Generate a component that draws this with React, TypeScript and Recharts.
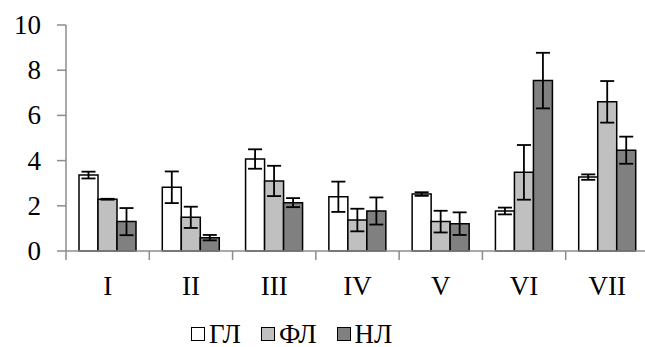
import { BarChart, Bar, XAxis, YAxis, ErrorBar, Legend } from 'recharts';

const categories = ['I', 'II', 'III', 'IV', 'V', 'VI', 'VII'];
const glValues = [3.36, 2.82, 4.07, 2.4, 2.52, 1.77, 3.27];
const glErrors = [0.15, 0.7, 0.43, 0.67, 0.08, 0.15, 0.12];
const flValues = [2.29, 1.49, 3.1, 1.37, 1.3, 3.48, 6.6];
const flErrors = [0.02, 0.47, 0.67, 0.5, 0.48, 1.21, 0.92];
const nlValues = [1.3, 0.59, 2.14, 1.77, 1.21, 7.54, 4.46];
const nlErrors = [0.6, 0.12, 0.2, 0.6, 0.5, 1.23, 0.6];
const yTicks = [0, 2, 4, 6, 8, 10];

const SERIES = [
  { key: 'gl', name: 'ГЛ', color: '#ffffff' },
  { key: 'fl', name: 'ФЛ', color: '#c0c0c0' },
  { key: 'nl', name: 'НЛ', color: '#808080' },
];

const FONT = '"Liberation Serif", "Times New Roman", serif';
const AXIS_COLOR = '#8c8c8c';

const data = categories.map((cat, i) => ({
  cat,
  gl: glValues[i],
  glErr: glErrors[i],
  fl: flValues[i],
  flErr: flErrors[i],
  nl: nlValues[i],
  nlErr: nlErrors[i],
}));

// label in the middle of the category, tick mark on its left boundary
const CategoryTick = ({ x, y, payload }: any) => {
  const half = payload?.offset ?? 41.6;
  return (
    <g>
      <line x1={x - half} y1={y} x2={x - half} y2={y + 9} stroke={AXIS_COLOR} strokeWidth={1.5} />
      <text x={x} y={y + 44} textAnchor="middle" style={{ fontFamily: FONT, fontSize: 27 }} fill="#000">
        {payload.value}
      </text>
    </g>
  );
};

const ValueTick = ({ x, y, payload }: any) => (
  <text x={x} y={y + 9} textAnchor="end" style={{ fontFamily: FONT, fontSize: 27 }} fill="#000">
    {payload.value}
  </text>
);

const renderLegend = () => (
  <div style={{ display: 'flex', alignItems: 'center', paddingLeft: 191, height: 40, fontFamily: FONT, fontSize: 27, lineHeight: '27px', paddingTop: 14, boxSizing: 'border-box' }}>
    {SERIES.map((s, i) => (
      <div key={s.key} style={{ display: 'flex', alignItems: 'center', marginLeft: i === 0 ? 0 : 20 }}>
        <span style={{ display: 'inline-block', width: 12, height: 12, border: '1.5px solid #000', background: s.color, marginRight: 4 }} />
        <span style={{ fontFamily: FONT }}>{s.name}</span>
      </div>
    ))}
  </div>
);

export default function App() {
  return (
    <div style={{ position: 'absolute', left: 0, top: 0, width: 645, height: 347, overflow: 'hidden', background: '#fff', fontFamily: FONT }}>
      <BarChart
        width={652}
        height={347}
        data={data}
        margin={{ top: 25, right: 3, bottom: 0, left: 0 }}
        barSize={19}
        barGap={0}
      >
        <XAxis
          dataKey="cat"
          height={56}
          axisLine={{ stroke: AXIS_COLOR, strokeWidth: 1.5 }}
          tickLine={false}
          tickSize={0}
          tickMargin={0}
          tick={<CategoryTick />}
          interval={0}
        />
        <YAxis
          width={66}
          domain={[0, 10]}
          ticks={yTicks}
          axisLine={{ stroke: AXIS_COLOR, strokeWidth: 1.5 }}
          tickLine={{ stroke: AXIS_COLOR, strokeWidth: 1.5 }}
          tickSize={9}
          tickMargin={16}
          tick={<ValueTick />}
        />
        <Legend verticalAlign="bottom" height={40} wrapperStyle={{ left: 0, width: 645 }} content={renderLegend} />
        {SERIES.map((s) => (
          <Bar key={s.key} dataKey={s.key} name={s.name} fill={s.color} stroke="#000" strokeWidth={1.5} isAnimationActive={false}>
            <ErrorBar dataKey={`${s.key}Err`} width={7} stroke="#000" strokeWidth={1.8} direction="y" />
          </Bar>
        ))}
      </BarChart>
    </div>
  );
}
